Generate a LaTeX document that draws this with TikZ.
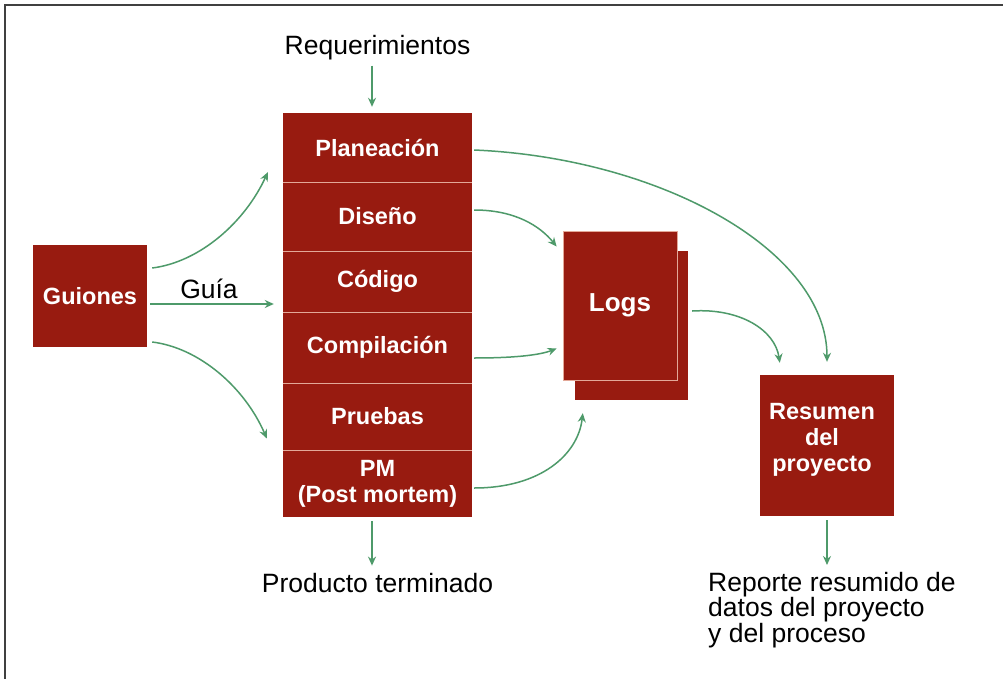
\documentclass[tikz,border=0pt]{standalone}
\usepackage{fontspec}
\setmainfont{Liberation Sans}
\usetikzlibrary{calc,arrows.meta}
\definecolor{boxred}{HTML}{981B10}
\definecolor{arrgreen}{HTML}{4E9A6A}
\definecolor{sepline}{HTML}{E3A898}
\begin{document}
\begin{tikzpicture}[x=1pt,y=-1pt,
  redbox/.style={fill=boxred, text=white, font=\fontsize{23.5}{26}\selectfont\bfseries, align=center, inner sep=0pt},
  row/.style={redbox, minimum width=189pt},
  lbl/.style={font=\fontsize{26.5}{26}\selectfont, text=black, inner sep=2pt},
  arr/.style={draw=arrgreen, line width=1.5pt, -{Stealth[length=9pt,width=8pt]}}]
\useasboundingbox (0,0) rectangle (1003,679);
\fill[white] (0,0) rectangle (1003,679);
\draw[line width=1.6pt, black!75] (5,679) -- (5,5) -- (1003,5);

% Guiones
\node[redbox, minimum width=114pt, minimum height=102pt] (guiones) at (90,296) {Guiones};

% stack
\node[row, minimum height=69pt] (plan) at (377.5,147.5) {Planeación};
\node[row, minimum height=69pt] (dis)  at (377.5,216.5) {Diseño};
\node[row, minimum height=61pt] (cod)  at (377.5,281.5) {Código};
\node[row, minimum height=71pt] (comp) at (377.5,347.5) {Compilación};
\node[row, minimum height=67pt] (prue) at (377.5,416.5) {Pruebas};
\node[row, minimum height=67pt] (pm)   at (377.5,483.5) {PM\\(Post mortem)};
\foreach \a/\b in {plan/dis,dis/cod,cod/comp,comp/prue,prue/pm}
  \draw[sepline, line width=0.8pt] (\a.south west) -- (\a.south east);

% Logs
\node[fill=boxred, minimum width=113pt, minimum height=149pt, inner sep=0pt] (logsback) at (631.5,325.5) {};
\node[redbox, draw=sepline, line width=0.8pt, minimum width=114pt, minimum height=149pt,
      font=\fontsize{26}{30}\selectfont\bfseries] (logs) at (620,305.5) {Logs};

% Resumen
\node[fill=boxred, minimum width=134pt, minimum height=141pt, inner sep=0pt] (resumen) at (827,445.5) {};
\node[redbox, fill=none, font=\fontsize{23.5}{26}\selectfont\bfseries] (resumentext) at (822,440) {Resumen\\del\\proyecto};

% labels
\node[lbl, anchor=base] (req) at (377.5,55) {Requerimientos};
\node[lbl, anchor=base] (prod) at (377.5,592) {Producto terminado};
\node[lbl, anchor=base] (guia) at (209,298) {Guía};
\node[lbl, anchor=north west, align=left, font=\fontsize{26.5}{25.5}\selectfont, inner sep=0pt] (rep) at (708,572) {Reporte resumido de\\datos del proyecto\\y del proceso};

% connectors
\draw[arr] ($(req.south)+(-5.5,3)$) -- ($(plan.north)+(-5.5,-6)$);
\draw[arr] ($(pm.south)+(-5.5,4)$) -- ($(prod.north)+(-5.5,-5)$);
\draw[arr] ($(resumen.south)+(0,4)$) -- ($(resumen.south |- rep.north)+(0,-7)$);

\draw[arr] ($(guiones.east)+(5,-28)$) .. controls (200,262) and (245,222) .. ($(plan.south west)+(-15,-10)$);
\draw[arr] ($(guiones.east)+(3,8)$) -- ($(cod.west)+(-9,22.5)$);
\draw[arr] ($(guiones.east)+(5,46)$) .. controls (200,348) and (245,388) .. ($(prue.west)+(-16,22)$);

\draw[arr] ($(plan.east)+(2,2.5)$) .. controls (660,158) and (827,250) .. ($(resumen.north)+(0,-13)$);
\draw[arr] ($(dis.east)+(2,-6.5)$) .. controls (515,210) and (540,226) .. ($(logs.west)+(-6,-59)$);
\draw[arr] ($(comp.east)+(2,10.5)$) .. controls (515,358) and (540,355) .. ($(logs.west)+(-6,43)$);
\draw[arr] ($(pm.east)+(2,4.5)$) .. controls (540,488) and (578,455) .. ($(logsback.south west)+(8,13)$);
\draw[arr] ($(logsback.east)+(4,-14.5)$) .. controls (740,308) and (775,330) .. ($(resumen.north west)+(20,-12)$);
\end{tikzpicture}
\end{document}
